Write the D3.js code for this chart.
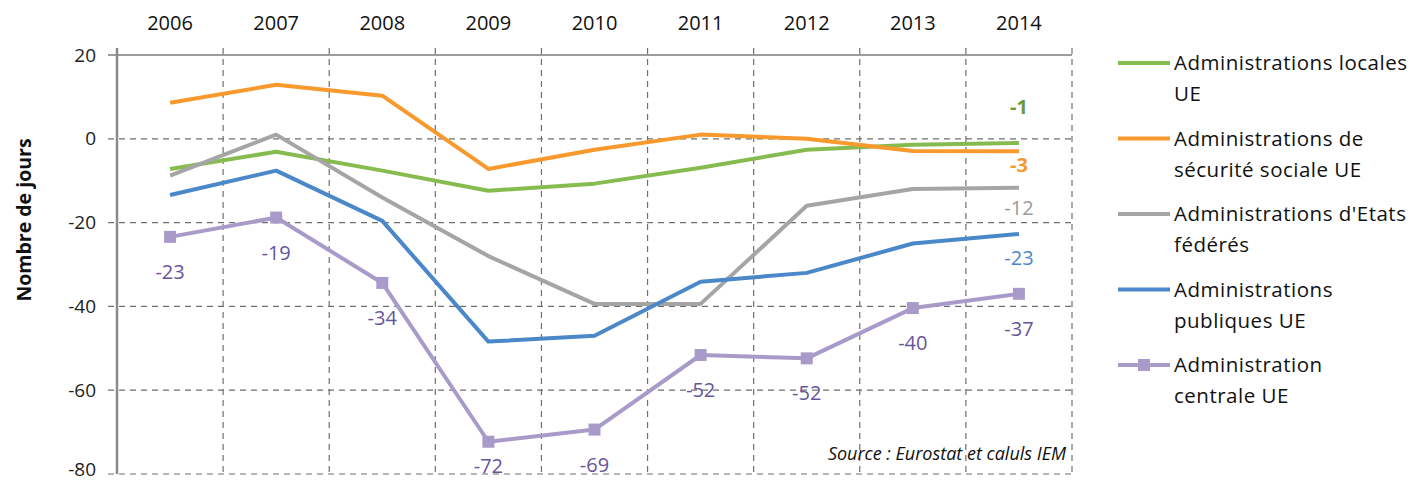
<!DOCTYPE html>
<html>
<head>
<meta charset="utf-8">
<script src="https://cdn.jsdelivr.net/npm/d3@7"></script>
<style>
  body { margin: 0; background: #fff; }
  svg text { font-family: "Open Sans", "Noto Sans", sans-serif; }
</style>
</head>
<body>
<svg id="chart" width="1427" height="483"></svg>
<script>
// data
var annees = ["2006","2007","2008","2009","2010","2011","2012","2013","2014"];
var locales   = [-7.2, -3.1, -7.6, -12.4, -10.7, -6.9, -2.6, -1.4, -1];
var secSoc    = [8.6, 12.9, 10.3, -7.2, -2.6, 1, 0, -2.9, -3];
var federes   = [-8.8, 1, -14, -28, -39.4, -39.4, -16, -12, -11.7];
var publiques = [-13.4, -7.6, -19.6, -48.4, -47, -34.1, -32, -25, -22.7];
var centrale  = [-23.4, -18.8, -34.4, -72.3, -69.4, -51.6, -52.4, -40.4, -37];
var yTicks = [20, 0, -20, -40, -60, -80];

var series = [
  {nom: ["Administrations locales", "UE"], valeurs: locales, couleur: "#86bc4f", texte: "#6b9a3c", dy: -36, gras: true},
  {nom: ["Administrations de", "sécurité sociale UE"], valeurs: secSoc, couleur: "#f7992c", texte: "#f39a2a", dy: 14, gras: true},
  {nom: ["Administrations d'Etats", "fédérés"], valeurs: federes, couleur: "#a5a5a5", texte: "#999999", dy: 20},
  {nom: ["Administrations", "publiques UE"], valeurs: publiques, couleur: "#4a88c9", texte: "#4a88c9", dy: 24},
  {nom: ["Administration", "centrale UE"], valeurs: centrale, couleur: "#a99bc9", texte: "#66559b", dy: 35, marker: true}
];

var svg = d3.select("#chart");

var x = d3.scaleBand()
  .domain(annees)
  .range([117, 1072])
  .paddingInner(0).paddingOuter(0);

var y = d3.scaleLinear()
  .domain([-80, 20])
  .range([474, 55]);

function cx(i) { return x(annees[i]) + x.bandwidth() / 2; }

// horizontal grid
svg.append("g").selectAll("line")
  .data(yTicks.filter(function(d){ return d != 20; }))
  .enter().append("line")
  .attr("x1", 108).attr("x2", 1072)
  .attr("y1", function(d){ return y(d); })
  .attr("y2", function(d){ return y(d); })
  .attr("stroke", "#6f6f6f")
  .attr("stroke-width", 1.2)
  .attr("stroke-dasharray", "6,5");

// vertical grid
var bords = annees.map(function(d){ return x(d); }).concat([x.range()[1]]);
svg.append("g").selectAll("line")
  .data(bords.slice(1))
  .enter().append("line")
  .attr("x1", function(d){ return d; }).attr("x2", function(d){ return d; })
  .attr("y1", 48).attr("y2", 474)
  .attr("stroke", "#6f6f6f")
  .attr("stroke-width", 1.2)
  .attr("stroke-dasharray", "6,5");

// top axis line + left axis line
svg.append("line")
  .attr("x1", 108).attr("x2", 1072)
  .attr("y1", y(20)).attr("y2", y(20))
  .attr("stroke", "#7a7a7a").attr("stroke-width", 1.5);
svg.append("line")
  .attr("x1", 117).attr("x2", 117)
  .attr("y1", 48).attr("y2", 474)
  .attr("stroke", "#8a8a8a").attr("stroke-width", 2.5);

// y tick labels
svg.append("g").selectAll("text")
  .data(yTicks)
  .enter().append("text")
  .attr("x", 96)
  .attr("y", function(d){ return Math.min(y(d), y(-80) - 5); })
  .attr("dy", "0.35em")
  .attr("text-anchor", "end")
  .attr("font-size", "19px")
  .attr("fill", "#222")
  .text(function(d){ return d; });

// x labels on top
svg.append("g").selectAll("text")
  .data(annees)
  .enter().append("text")
  .attr("x", function(d){ return x(d) + x.bandwidth() / 2; })
  .attr("y", 23)
  .attr("dy", "0.35em")
  .attr("text-anchor", "middle")
  .attr("font-size", "20px")
  .attr("fill", "#111")
  .text(function(d){ return d; });

// y title
svg.append("text")
  .attr("transform", "translate(24,220) rotate(-90)")
  .attr("dy", "0.35em")
  .attr("text-anchor", "middle")
  .attr("font-size", "19.5px")
  .attr("font-weight", "bold")
  .attr("fill", "#111")
  .text("Nombre de jours");

var ligne = d3.line()
  .x(function(d, i){ return cx(i); })
  .y(function(d){ return y(d); });

series.forEach(function(s){
  svg.append("path")
    .datum(s.valeurs)
    .attr("d", ligne)
    .attr("fill", "none")
    .attr("stroke", s.couleur)
    .attr("stroke-width", 4)
    .attr("stroke-linejoin", "round");

  if (s.marker) {
    svg.append("g").selectAll("rect")
      .data(s.valeurs)
      .enter().append("rect")
      .attr("x", function(d, i){ return cx(i) - 6; })
      .attr("y", function(d){ return y(d) - 6; })
      .attr("width", 12).attr("height", 12)
      .attr("fill", s.couleur);
    svg.append("g").selectAll("text")
      .data(s.valeurs)
      .enter().append("text")
      .attr("x", function(d, i){ return cx(i); })
      .attr("y", function(d){ return Math.min(y(d) + s.dy, y(-80) - 8); })
      .attr("dy", "0.35em")
      .attr("text-anchor", "middle")
      .attr("font-size", "20px")
      .attr("fill", s.texte)
      .text(function(d){ return Math.round(d); });
  } else {
    var last = s.valeurs.length - 1;
    svg.append("text")
      .attr("x", cx(last))
      .attr("y", y(s.valeurs[last]) + s.dy)
      .attr("dy", "0.35em")
      .attr("text-anchor", "middle")
      .attr("font-size", "20px")
      .attr("font-weight", s.gras ? "bold" : "normal")
      .attr("fill", s.texte)
      .text(Math.round(s.valeurs[last]));
  }
});

// legend
var leg = svg.append("g").attr("transform", "translate(1118,0)");
series.forEach(function(s, i){
  var ly = 63 + i * 75.5;
  leg.append("line")
    .attr("x1", 0).attr("x2", 52)
    .attr("y1", ly).attr("y2", ly)
    .attr("stroke", s.couleur).attr("stroke-width", 4);
  if (s.marker) {
    leg.append("rect")
      .attr("x", 20).attr("y", ly - 6)
      .attr("width", 12).attr("height", 12)
      .attr("fill", s.couleur);
  }
  s.nom.forEach(function(t, j){
    leg.append("text")
      .attr("x", 56)
      .attr("y", ly + j * 31)
      .attr("dy", "0.35em")
      .attr("font-size", "20.5px")
      .attr("letter-spacing", "0.5px")
      .attr("fill", "#111")
      .text(t);
  });
});

// source
svg.append("text")
  .attr("x", 1066).attr("y", 454)
  .attr("dy", "0.35em")
  .attr("text-anchor", "end")
  .attr("font-size", "18px")
  .attr("font-style", "italic")
  .attr("fill", "#111")
  .text("Source : Eurostat et caluls IEM");
</script>
</body>
</html>
